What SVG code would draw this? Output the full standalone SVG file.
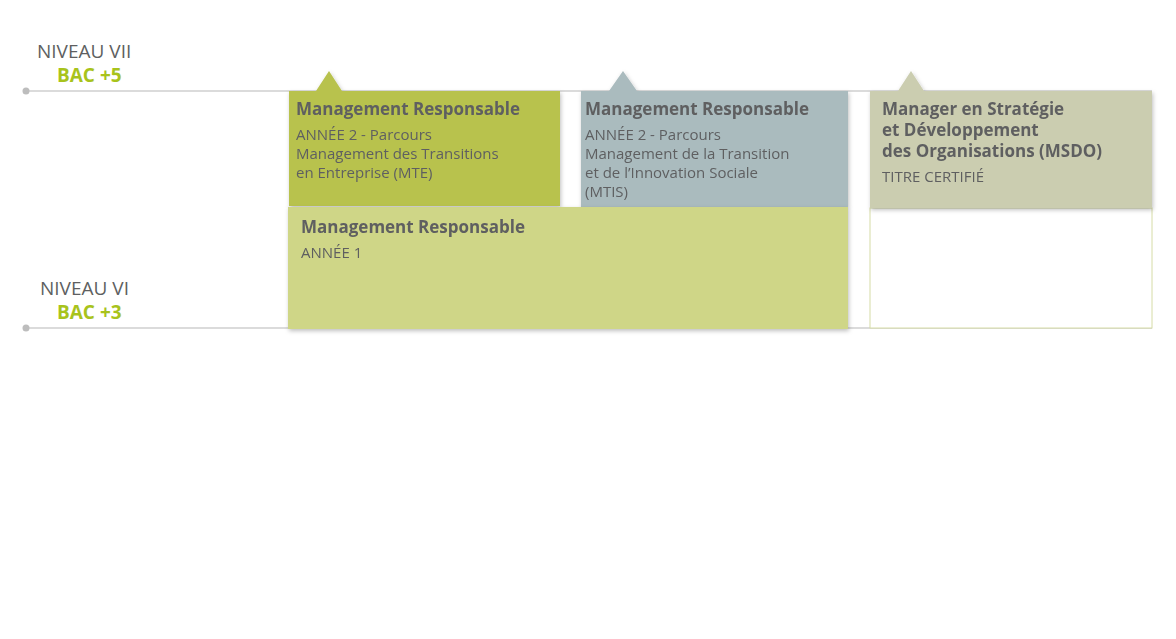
<svg xmlns="http://www.w3.org/2000/svg" width="1176" height="639" viewBox="0 0 1176 639">
<defs>
<style>
.t{font-family:"Open Sans","Liberation Sans",sans-serif;fill:#5e5f61}
.h{font-weight:bold;font-size:17px}
.s{font-size:15px}
.lv{font-size:19px}
.bac{font-family:"Open Sans","Liberation Sans",sans-serif;font-weight:bold;font-size:19px;fill:#a8c31c}
.axis{stroke:#cfcfcf;stroke-width:1.5}
</style>
<filter id="sh" x="-5%" y="-5%" width="115%" height="120%"><feDropShadow dx="1" dy="2" stdDeviation="2" flood-color="#000" flood-opacity="0.25"/></filter>
</defs>
<rect width="1176" height="639" fill="#fff"/>
<g id="axes">
<line class="axis" x1="26" y1="91" x2="1152" y2="91"/>
<line class="axis" x1="26" y1="328" x2="1152" y2="328"/>
<circle cx="26" cy="91" r="3.5" fill="#bdbdbd"/>
<circle cx="26" cy="328" r="3.5" fill="#bdbdbd"/>
<text class="t lv" x="37" y="58">NIVEAU VII</text>
<text class="bac" x="57" y="82">BAC +5</text>
<text class="t lv" x="40" y="295">NIVEAU VI</text>
<text class="bac" x="57" y="319">BAC +3</text>
</g>
<g id="msdo-frame"><rect x="870" y="208" width="282" height="120" fill="#fff" stroke="#d6dca6" stroke-width="1"/></g>
<g id="mte" filter="url(#sh)">
<path d="M289 91H316L329 71L342 91H560V206H289Z" fill="#b8c24e"/>
<text class="t h" x="296" y="115">Management Responsable</text>
<text class="t s" x="296" y="140">ANNÉE 2 - Parcours</text>
<text class="t s" x="296" y="159">Management des Transitions</text>
<text class="t s" x="296" y="178">en Entreprise (MTE)</text>
</g>
<g id="mtis" filter="url(#sh)">
<path d="M581 91H609L623 71L637 91H848V207H581Z" fill="#aabbbe"/>
<text class="t h" x="585" y="115">Management Responsable</text>
<text class="t s" x="585" y="140">ANNÉE 2 - Parcours</text>
<text class="t s" x="585" y="159">Management de la Transition</text>
<text class="t s" x="585" y="178">et de l’Innovation Sociale</text>
<text class="t s" x="585" y="197">(MTIS)</text>
</g>
<g id="annee1" filter="url(#sh)">
<rect x="288" y="207" width="560" height="122" fill="#cfd687"/>
<text class="t h" x="301" y="233">Management Responsable</text>
<text class="t s" x="301" y="258">ANNÉE 1</text>
</g>
<g id="msdo" filter="url(#sh)">
<path d="M870 91H898L911 71L924 91H1152V208H870Z" fill="#cbcdb0"/>
<text class="t h" x="882" y="115">Manager en Stratégie</text>
<text class="t h" x="882" y="136">et Développement</text>
<text class="t h" x="882" y="157">des Organisations (MSDO)</text>
<text class="t s" x="882" y="182">TITRE CERTIFIÉ</text>
</g>
<g id="connectors"/>
</svg>
